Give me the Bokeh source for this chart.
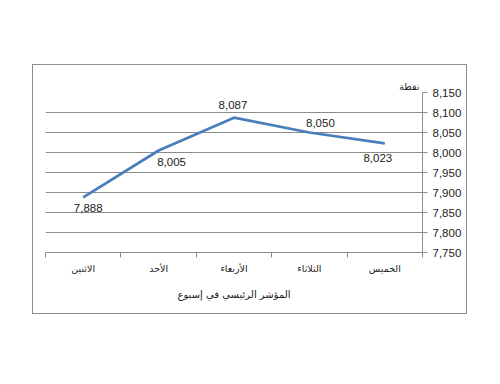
from bokeh.plotting import figure
from bokeh.models import Range1d, FixedTicker, NumeralTickFormatter, ColumnDataSource
from bokeh.core.properties import value
from bokeh.embed import file_html
from bokeh.resources import INLINE

# data
days = ["الاثنين", "الأحد", "الأربعاء", "الثلاثاء", "الخميس"]
index_values = [7888, 8005, 8087, 8050, 8023]
value_labels = ["7,888", "8,005", "8,087", "8,050", "8,023"]
y_ticks = [7750, 7800, 7850, 7900, 7950, 8000, 8050, 8100, 8150]
chart_title = "المؤشر الرئيسي في إسبوع"
unit_label = "نقطة"

# label placement (style)
label_dx = [5, 13, -1, 11, -7]
label_dy = [11, 11, -13, -10, 15]

GRAY = "#8c8c8c"
BLUE = "#4a7ebb"
AR_FONT = "DejaVu Sans"
NUM_FONT = "Liberation Sans"

xs = list(range(1, len(days) + 1))

p = figure(width=435, height=250,
           x_range=Range1d(0.5, len(days) + 0.5),
           y_range=Range1d(y_ticks[0], y_ticks[-1]),
           output_backend="svg", toolbar_location=None,
           y_axis_location="right",
           min_border_left=12, min_border_right=46,
           min_border_top=27, min_border_bottom=63,
           margin=(64, 0, 0, 32),
           styles={"border": "1.5px solid #8c8c8c"},
           outline_line_color=None, background_fill_color="white",
           border_fill_color="white")

p.title.text = unit_label
p.title.align = "right"
p.title.offset = 3
p.title.standoff = 2
p.title.text_font = AR_FONT
p.title.text_font_size = "9.5px"
p.title.text_font_style = "normal"
p.title.text_color = "#222222"

# grid
p.xgrid.grid_line_color = None
p.ygrid.grid_line_color = GRAY
p.ygrid.grid_line_width = 1
p.ygrid.ticker = FixedTicker(ticks=y_ticks)

# right axis
ya = p.yaxis[0]
ya.ticker = FixedTicker(ticks=y_ticks)
ya.formatter = NumeralTickFormatter(format="0,0")
ya.axis_line_color = GRAY
ya.major_tick_line_color = GRAY
ya.major_tick_out = 5
ya.major_tick_in = 0
ya.minor_tick_line_color = None
ya.major_label_standoff = 5
ya.major_label_text_font = NUM_FONT
ya.major_label_text_font_size = "11.5px"
ya.major_label_text_color = "#222222"

# bottom axis
xa = p.xaxis[0]
xa.ticker = FixedTicker(ticks=xs, minor_ticks=[x - 0.5 for x in xs] + [xs[-1] + 0.5])
xa.major_label_overrides = {x: d for x, d in zip(xs, days)}
xa.axis_line_color = GRAY
xa.major_tick_line_color = None
xa.major_tick_out = 0
xa.major_tick_in = 0
xa.minor_tick_line_color = GRAY
xa.minor_tick_out = 5
xa.minor_tick_in = 0
xa.major_label_standoff = 5
xa.major_label_text_font = AR_FONT
xa.major_label_text_font_size = "9.5px"
xa.major_label_text_color = "#222222"
xa.axis_label = chart_title
xa.axis_label_standoff = 12
xa.axis_label_text_font = AR_FONT
xa.axis_label_text_font_size = "10px"
xa.axis_label_text_font_style = "normal"
xa.axis_label_text_color = "#222222"

src = ColumnDataSource(dict(x=xs, y=index_values, lab=value_labels, dx=label_dx, dy=label_dy))
p.line("x", "y", source=src, line_color=BLUE, line_width=2.75)
p.text("x", "y", text="lab", source=src, x_offset="dx", y_offset="dy",
       text_align="center", text_baseline="middle",
       text_font=value(NUM_FONT), text_font_size="11.5px", text_color="#222222")

open("out.html", "w").write(file_html(p, INLINE))
